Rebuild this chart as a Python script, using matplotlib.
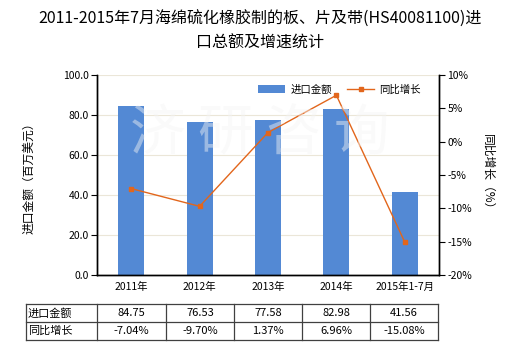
import matplotlib
matplotlib.use("Agg")
import matplotlib.pyplot as plt
from matplotlib.lines import Line2D

plt.rcParams['font.family'] = ['Noto Sans CJK SC', 'DejaVu Sans']
plt.rcParams['axes.unicode_minus'] = False

categories = ["2011年", "2012年", "2013年", "2014年", "2015年1-7月"]
import_values = [84.75, 76.53, 77.58, 82.98, 41.56]
growth_pct = [-7.04, -9.70, 1.37, 6.96, -15.08]
left_ticks = [0, 20, 40, 60, 80, 100]
right_ticks = [-20, -15, -10, -5, 0, 5, 10]

W, H = 520, 350
fig = plt.figure(figsize=(W / 100, H / 100), dpi=100)

x0, x1, ytop, ybot = 97, 439, 75, 275
ax = fig.add_axes([x0 / W, 1 - ybot / H, (x1 - x0) / W, (ybot - ytop) / H])
ax2 = ax.twinx()

bar_color = "#5389d4"
line_color = "#e2661c"
pos = list(range(len(categories)))

ax.bar(pos, import_values, width=0.38, color=bar_color, zorder=2, label="进口金额")
ax.set_ylim(0, 100)
ax.set_xlim(-0.5, len(categories) - 0.5)
ax.set_yticks(left_ticks)
ax.set_yticklabels([f"{v:.1f}" for v in left_ticks], fontsize=7.5)
ax.set_xticks(pos)
ax.set_xticklabels(categories, fontsize=7.5)
ax.tick_params(axis='x', length=0, pad=5)
ax.tick_params(axis='y', length=4, pad=2)
ax.grid(axis='y', color="#ebe6d8", linewidth=0.8, zorder=0)
ax.set_ylabel("进口金额（百万美元）", fontsize=8.5, labelpad=20)

ax2.plot(pos, growth_pct, color=line_color, linewidth=1.0, marker='s',
         markersize=3.2, zorder=3, label="同比增长")
ax2.set_ylim(-20, 10)
ax2.set_yticks(right_ticks)
ax2.set_yticklabels([f"{v}%" for v in right_ticks], fontsize=7.5)
ax2.tick_params(axis='y', length=4, pad=2)
ax2.set_ylabel("同比增长（%）", fontsize=8.5, rotation=270, labelpad=16)

for a in (ax, ax2):
    a.spines['top'].set_visible(False)
    for s in ('left', 'right', 'bottom'):
        a.spines[s].set_linewidth(1.0)
        a.spines[s].set_color("black")

h1, l1 = ax.get_legend_handles_labels()
h2, l2 = ax2.get_legend_handles_labels()
ax.legend(h1 + h2, l1 + l2, loc='upper right', bbox_to_anchor=(0.975, 1.0),
          ncol=2, frameon=False, fontsize=7.5, handlelength=2.6,
          columnspacing=1.5, handletextpad=0.5)

fig.text(0.5, 1 - 19 / H, "2011-2015年7月海绵硫化橡胶制的板、片及带(HS40081100)进",
         ha='center', va='center', fontsize=11.5)
fig.text(0.5, 1 - 43 / H, "口总额及增速统计", ha='center', va='center', fontsize=11.5)

# faint watermark
fig.text(0.5, 1 - 135 / H, "济 研 咨 询", ha='center', va='center', fontsize=40,
         color="#f4f4f4", zorder=0, alpha=0.45)

# data table below the chart
cols = [26, 97, 166, 234, 302, 370, 438]
rows = [304, 322, 340]
lc = "#404040"
for y in rows:
    fig.add_artist(Line2D([cols[0] / W, cols[-1] / W], [1 - y / H, 1 - y / H],
                          color=lc, linewidth=0.9))
for x in cols:
    fig.add_artist(Line2D([x / W, x / W], [1 - rows[0] / H, 1 - rows[-1] / H],
                          color=lc, linewidth=0.9))

row_names = ["进口金额", "同比增长"]
row_vals = [[f"{v:.2f}" for v in import_values], [f"{v:.2f}%" for v in growth_pct]]
for r, (name, vals) in enumerate(zip(row_names, row_vals)):
    yc = 1 - (rows[r] + rows[r + 1]) / 2 / H
    fig.text((cols[0] + 2) / W, yc, name, ha='left', va='center', fontsize=8)
    for c, v in enumerate(vals):
        xc = (cols[c + 1] + cols[c + 2]) / 2 / W
        fig.text(xc, yc, v, ha='center', va='center', fontsize=8)

fig.savefig("out.png", dpi=100, facecolor="white")
